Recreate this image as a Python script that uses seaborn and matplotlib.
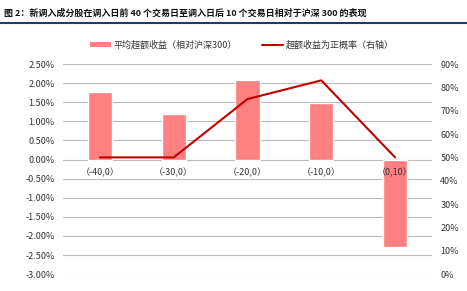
import matplotlib
matplotlib.use("Agg")
import matplotlib.pyplot as plt
import matplotlib.ticker as mticker
from matplotlib.lines import Line2D
from matplotlib.patches import Patch
import seaborn as sns
import numpy as np
import pandas as pd

categories = ["（-40,0）", "（-30,0）", "（-20,0）", "（-10,0）", "（0,10）"]
excess_return = [0.0178, 0.0120, 0.0209, 0.0148, -0.0230]
positive_prob = [0.50, 0.50, 0.75, 0.83, 0.50]
bar_label = "平均超额收益（相对沪深300）"
line_label = "超额收益为正概率（右轴）"
title = "图 2：新调入成分股在调入日前 40 个交易日至调入日后 10 个交易日相对于沪深 300 的表现"

sns.set_theme(style="white")
plt.rcParams["font.family"] = ["Noto Sans CJK SC", "DejaVu Sans"]

df = pd.DataFrame({"cat": categories, "ret": excess_return,
                   "prob": positive_prob, "pos": np.arange(len(categories))})

fig = plt.figure(figsize=(4.67, 2.91), dpi=100)
ax = fig.add_axes([0.135, 0.058, 0.79, 0.722])

bar_color = "#FF8080"
line_color = "#C00000"

sns.barplot(data=df, x="cat", y="ret", color=bar_color, width=0.33,
            saturation=1, ax=ax, zorder=1)
ax.set_ylim(-0.03, 0.025)
ax.yaxis.set_major_locator(mticker.MultipleLocator(0.005))
ax.yaxis.set_major_formatter(mticker.FuncFormatter(lambda v, p: f"{v*100:.2f}%"))
ax.grid(False)
for t in ax.get_yticks():
    if -0.03 - 1e-9 <= t <= 0.025 + 1e-9:
        ax.axhline(t, color="#BBBBBB", linewidth=0.8, zorder=0)
ax.set_axisbelow(False)
for s in ["top", "right", "left"]:
    ax.spines[s].set_visible(False)
ax.spines["bottom"].set_position(("data", 0))
ax.spines["bottom"].set_visible(False)
ax.tick_params(axis="x", length=0, pad=6, labelsize=6.5, colors="#333333")
ax.tick_params(axis="y", length=0, pad=6, labelsize=6.5, colors="#333333")
ax.set_xlabel("")
ax.set_ylabel("")
ax.set_xlim(-0.5, len(categories) - 0.5)

ax2 = ax.twinx()
sns.lineplot(data=df, x="pos", y="prob", color=line_color, linewidth=1.5, ax=ax2)
ax2.set_ylim(0, 0.9)
ax2.yaxis.set_major_locator(mticker.MultipleLocator(0.1))
ax2.yaxis.set_major_formatter(mticker.FuncFormatter(lambda v, p: f"{v*100:.0f}%"))
for s in ["top", "right", "left", "bottom"]:
    ax2.spines[s].set_visible(False)
ax2.tick_params(axis="y", length=0, pad=6, labelsize=6.5, colors="#333333")
ax2.set_ylabel("")
ax2.set_xlabel("")
ax2.set_xlim(-0.5, len(categories) - 0.5)

handles = [Patch(facecolor=bar_color, edgecolor="none"),
           Line2D([0], [0], color=line_color, linewidth=1.5)]
fig.legend(handles, [bar_label, line_label], loc="center", ncol=2,
           bbox_to_anchor=(0.518, 0.845), frameon=False, fontsize=6.5,
           handlelength=2.3, handleheight=0.5, handletextpad=0.3,
           columnspacing=2.8, labelcolor="#333333")

fig.text(0.008, 0.972, title, fontsize=6.5, fontweight="bold",
         ha="left", va="top", color="#111111")
fig.add_artist(Line2D([0, 1], [0.92, 0.92], transform=fig.transFigure,
                      color="#1F3A6E", linewidth=1.5))

fig.savefig("out.png", dpi=100)
